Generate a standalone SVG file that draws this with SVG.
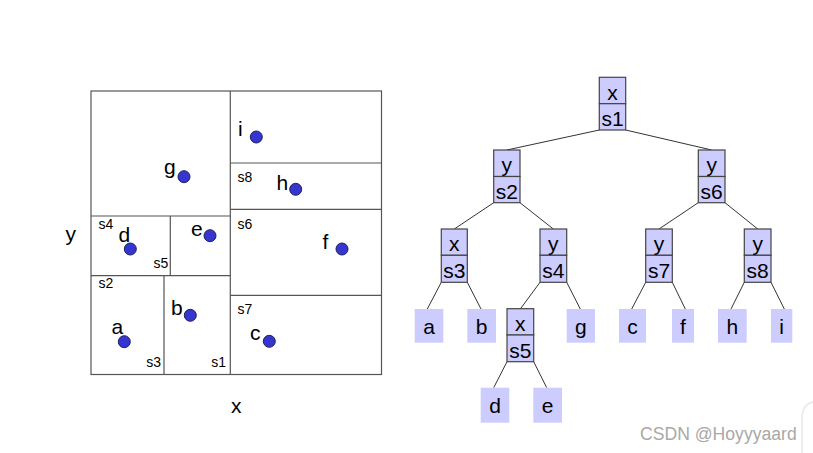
<svg xmlns="http://www.w3.org/2000/svg" width="813" height="453" viewBox="0 0 813 453">
<style>
.bg{fill:#fff}
.cell{fill:none;stroke:#555;stroke-width:1.2}
.pt{fill:#3535d0;stroke:#20205a;stroke-width:1}
.lbl{font-family:"Liberation Sans",Arial,sans-serif;font-size:21px;fill:#000}
.sl{font-family:"Liberation Sans",Arial,sans-serif;font-size:14px;fill:#000}
.sr{text-anchor:end}
.nb{fill:#ccccff;stroke:#444;stroke-width:1.2}
.lf{fill:#ccccff}
.nt{font-family:"Liberation Sans",Arial,sans-serif;font-size:21px;fill:#000;text-anchor:middle}
.edge{stroke:#333;stroke-width:1;fill:none}
.wm{font-family:"Liberation Sans",Arial,sans-serif;font-size:17.6px;fill:#a8a8a8}
</style>
<rect class="bg" x="0" y="0" width="813" height="453"/>
<g id="plane">
<rect class="cell" x="91" y="91" width="290.5" height="283.5"/>
<line class="cell" x1="230.3" y1="91" x2="230.3" y2="374.5"/>
<line class="cell" x1="91" y1="216" x2="230.3" y2="216"/>
<line class="cell" x1="91" y1="275.7" x2="230.3" y2="275.7"/>
<line class="cell" x1="170.3" y1="216" x2="170.3" y2="275.7"/>
<line class="cell" x1="164" y1="275.7" x2="164" y2="374.5"/>
<line class="cell" x1="230.3" y1="163" x2="381.5" y2="163"/>
<line class="cell" x1="230.3" y1="209.3" x2="381.5" y2="209.3"/>
<line class="cell" x1="230.3" y1="295.3" x2="381.5" y2="295.3"/>
<circle class="pt" cx="256.3" cy="137" r="6"/>
<circle class="pt" cx="184" cy="176.7" r="6"/>
<circle class="pt" cx="295.7" cy="189.3" r="6"/>
<circle class="pt" cx="130.3" cy="249" r="6"/>
<circle class="pt" cx="210" cy="235.7" r="6"/>
<circle class="pt" cx="342" cy="249" r="6"/>
<circle class="pt" cx="190.3" cy="315.3" r="6"/>
<circle class="pt" cx="124.3" cy="341.7" r="6"/>
<circle class="pt" cx="269.3" cy="341.3" r="6"/>
<text class="lbl" x="238" y="136">i</text>
<text class="lbl" x="164" y="174">g</text>
<text class="lbl" x="276.5" y="190">h</text>
<text class="lbl" x="118.5" y="242">d</text>
<text class="lbl" x="191" y="235.5">e</text>
<text class="lbl" x="322.5" y="248.5">f</text>
<text class="lbl" x="171" y="314.5">b</text>
<text class="lbl" x="111.5" y="334">a</text>
<text class="lbl" x="250" y="340">c</text>
<text class="sl" x="237.5" y="182">s8</text>
<text class="sl" x="237.5" y="228.5">s6</text>
<text class="sl" x="237.5" y="314">s7</text>
<text class="sl" x="98.5" y="228.5">s4</text>
<text class="sl sr" x="168.3" y="267.5">s5</text>
<text class="sl" x="98.5" y="288">s2</text>
<text class="sl sr" x="161" y="367">s3</text>
<text class="sl sr" x="226" y="367">s1</text>
<text class="lbl" x="65.5" y="240.5">y</text>
<text class="lbl" x="231" y="412.5">x</text>
</g>
<g id="edges">
<line class="edge" x1="599.3" y1="130" x2="506.8" y2="150"/>
<line class="edge" x1="625.7" y1="130" x2="711.7" y2="150"/>
<line class="edge" x1="493.7" y1="202.7" x2="454.3" y2="229"/>
<line class="edge" x1="520" y1="202.7" x2="553.3" y2="229"/>
<line class="edge" x1="698.3" y1="202.7" x2="659" y2="229"/>
<line class="edge" x1="725" y1="202.7" x2="757.7" y2="229"/>
<line class="edge" x1="441.3" y1="282.3" x2="427.3" y2="309"/>
<line class="edge" x1="467.3" y1="282.3" x2="481" y2="309"/>
<line class="edge" x1="540" y1="282.3" x2="520.3" y2="309"/>
<line class="edge" x1="566.7" y1="282.3" x2="580.3" y2="309"/>
<line class="edge" x1="645.7" y1="282.3" x2="631.7" y2="309"/>
<line class="edge" x1="672.3" y1="282.3" x2="685.3" y2="309"/>
<line class="edge" x1="744.3" y1="282.3" x2="731" y2="309"/>
<line class="edge" x1="771" y1="282.3" x2="784.3" y2="309"/>
<line class="edge" x1="507" y1="361.7" x2="493.7" y2="387.7"/>
<line class="edge" x1="533.7" y1="361.7" x2="546.7" y2="387.7"/>
</g>
<g id="n-s1"><rect class="nb" x="599.3" y="77.3" width="26.4" height="26.4"/><rect class="nb" x="599.3" y="103.7" width="26.4" height="26.3"/><text class="nt" x="612.5" y="99.5">x</text><text class="nt" x="612.5" y="126">s1</text></g>
<g id="n-s2"><rect class="nb" x="493.7" y="150" width="26.3" height="26.5"/><rect class="nb" x="493.7" y="176.5" width="26.3" height="26.2"/><text class="nt" x="506.8" y="172">y</text><text class="nt" x="506.8" y="198.5">s2</text></g>
<g id="n-s6"><rect class="nb" x="698.3" y="150" width="26.7" height="26.5"/><rect class="nb" x="698.3" y="176.5" width="26.7" height="26.2"/><text class="nt" x="711.7" y="172">y</text><text class="nt" x="711.7" y="198.5">s6</text></g>
<g id="n-s3"><rect class="nb" x="441.3" y="229" width="26" height="26.3"/><rect class="nb" x="441.3" y="255.3" width="26" height="27"/><text class="nt" x="454.3" y="251">x</text><text class="nt" x="454.3" y="278">s3</text></g>
<g id="n-s4"><rect class="nb" x="540" y="229" width="26.7" height="26.3"/><rect class="nb" x="540" y="255.3" width="26.7" height="27"/><text class="nt" x="553.3" y="251">y</text><text class="nt" x="553.3" y="278">s4</text></g>
<g id="n-s7"><rect class="nb" x="645.7" y="229" width="26.6" height="26.3"/><rect class="nb" x="645.7" y="255.3" width="26.6" height="27"/><text class="nt" x="659" y="251">y</text><text class="nt" x="659" y="278">s7</text></g>
<g id="n-s8"><rect class="nb" x="744.3" y="229" width="26.7" height="26.3"/><rect class="nb" x="744.3" y="255.3" width="26.7" height="27"/><text class="nt" x="757.7" y="251">y</text><text class="nt" x="757.7" y="278">s8</text></g>
<g id="n-s5"><rect class="nb" x="507" y="308.7" width="26.7" height="26.3"/><rect class="nb" x="507" y="335" width="26.7" height="26.7"/><text class="nt" x="520.3" y="330.5">x</text><text class="nt" x="520.3" y="357.5">s5</text></g>
<g id="n-a"><rect class="lf" x="414.7" y="309" width="28.6" height="33.7"/><text class="nt" x="429" y="334">a</text></g>
<g id="n-b"><rect class="lf" x="467.3" y="309" width="28.7" height="33.7"/><text class="nt" x="481.6" y="334">b</text></g>
<g id="n-g"><rect class="lf" x="566.7" y="309" width="28.3" height="33.7"/><text class="nt" x="580.8" y="334">g</text></g>
<g id="n-c"><rect class="lf" x="619" y="309" width="27" height="33.7"/><text class="nt" x="632.5" y="334">c</text></g>
<g id="n-f"><rect class="lf" x="672" y="309" width="22" height="33.7"/><text class="nt" x="683" y="334">f</text></g>
<g id="n-h"><rect class="lf" x="718" y="309" width="28.7" height="33.7"/><text class="nt" x="732.3" y="334">h</text></g>
<g id="n-i"><rect class="lf" x="771" y="309" width="21.3" height="33.7"/><text class="nt" x="781.6" y="334">i</text></g>
<g id="n-d"><rect class="lf" x="480.7" y="387.7" width="28.6" height="35"/><text class="nt" x="495" y="413">d</text></g>
<g id="n-e"><rect class="lf" x="533.3" y="387.7" width="28.7" height="35"/><text class="nt" x="547.6" y="413">e</text></g>
<text class="wm" x="640" y="440">CSDN @Hoyyyaard</text>
<path d="M813 402 Q803 404 802 416 L802 453" fill="none" stroke="#e6e6e6" stroke-width="1.5"/>
</svg>
